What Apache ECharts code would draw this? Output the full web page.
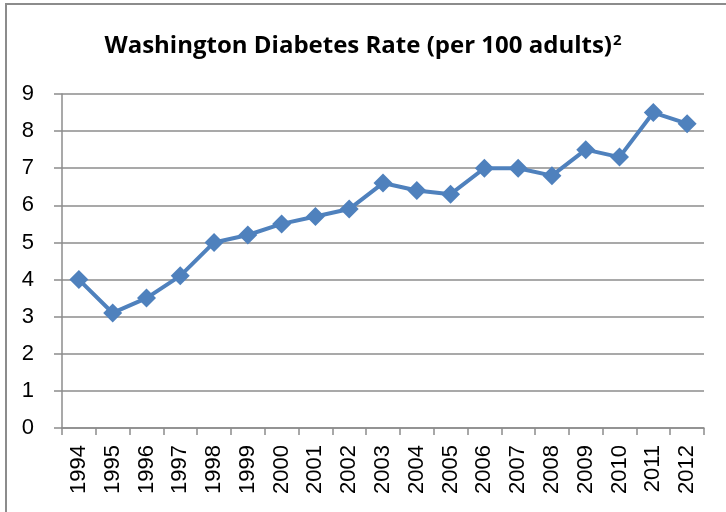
<!DOCTYPE html>
<html>
<head>
<meta charset="utf-8">
<script src="https://cdn.jsdelivr.net/npm/echarts@6/dist/echarts.min.js"></script>
<style>
  html, body { margin: 0; padding: 0; background: #fff; }
  #chart { width: 726px; height: 512px; }
  #frame { position: absolute; left: 5px; top: 3px; width: 740px; height: 520px;
           border-left: 2px solid #8c8c8c; border-top: 2px solid #8c8c8c; pointer-events: none; }
</style>
</head>
<body>
<div id="chart"></div>
<div id="frame"></div>
<script>
// 年份与糖尿病率
var years = ['1994','1995','1996','1997','1998','1999','2000','2001','2002','2003',
             '2004','2005','2006','2007','2008','2009','2010','2011','2012'];
var rates = [4.0, 3.1, 3.5, 4.1, 5.0, 5.2, 5.5, 5.7, 5.9, 6.6,
             6.4, 6.3, 7.0, 7.0, 6.8, 7.5, 7.3, 8.5, 8.2];
var yTicks = [0, 1, 2, 3, 4, 5, 6, 7, 8, 9];

var myChart = echarts.init(document.getElementById('chart'));
var option = {
  animation: false,
  title: {
    text: '{a|Washington Diabetes Rate (per 100 adults)}{b|2}',
    left: 'center',
    top: 28,
    textStyle: {
      rich: {
        a: { fontFamily: 'Open Sans', fontWeight: 'bold', fontSize: 24, color: '#000' },
        b: { fontFamily: 'Open Sans', fontSize: 15, color: '#000', verticalAlign: 'top', padding: [0, 0, 12, 1] }
      }
    }
  },
  grid: { left: 62, right: 22, top: 94, bottom: 84 },
  xAxis: {
    type: 'category',
    data: years,
    boundaryGap: true,
    axisLine: { lineStyle: { color: '#8c8c8c', width: 1.5 } },
    axisTick: { show: true, length: 7, alignWithLabel: false, lineStyle: { color: '#8c8c8c', width: 1.5 } },
    axisLabel: { rotate: 90, color: '#000', fontFamily: 'Liberation Sans', fontSize: 22, margin: 17, interval: 0 }
  },
  yAxis: {
    type: 'value',
    min: yTicks[0],
    max: yTicks[yTicks.length - 1],
    interval: 1,
    axisLine: { show: true, lineStyle: { color: '#8c8c8c', width: 1.5 } },
    axisTick: { show: true, length: 8, lineStyle: { color: '#8c8c8c', width: 1.5 } },
    axisLabel: { color: '#000', fontFamily: 'Liberation Sans', fontSize: 22, margin: 28 },
    splitLine: { lineStyle: { color: '#8c8c8c', width: 1.5 } }
  },
  series: [{
    type: 'line',
    data: rates,
    symbol: 'diamond',
    symbolSize: 19,
    lineStyle: { color: '#4F81BD', width: 4 },
    itemStyle: { color: '#4F81BD' }
  }]
};
myChart.setOption(option);
</script>
</body>
</html>
